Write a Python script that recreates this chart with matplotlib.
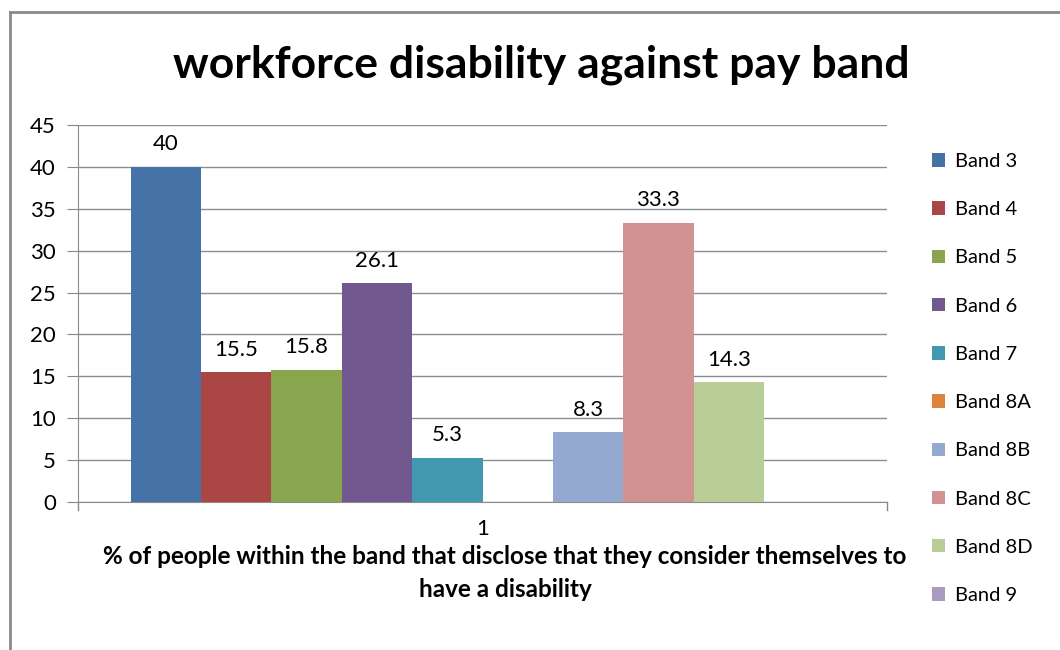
import numpy as np
import matplotlib.pyplot as plt
from matplotlib.lines import Line2D

plt.rcParams['font.family'] = ['Lato', 'DejaVu Sans']

# pay bands and % of staff in each band disclosing a disability
bands = ["Band 3", "Band 4", "Band 5", "Band 6", "Band 7",
         "Band 8A", "Band 8B", "Band 8C", "Band 8D", "Band 9"]
values = [40, 15.5, 15.8, 26.1, 5.3, None, 8.3, 33.3, 14.3, None]
colors = ["#4572A7", "#AA4643", "#89A54E", "#71588F", "#4198AF",
          "#DB843D", "#93A9CF", "#D19392", "#B9CD96", "#A99BBD"]
category = ["1"]

fig = plt.figure(figsize=(10.6, 6.5), dpi=100)
ax = fig.add_axes([0.0736, 0.2277, 0.7632, 0.58])

n = len(bands)
gap = 1.5
width = 1.0 / (n + gap)
start = 0.5 - n * width / 2

for i, (b, v, c) in enumerate(zip(bands, values, colors)):
    h = np.nan if v is None else v
    x = start + (i + 0.5) * width
    ax.bar(x, h, width=width, color=c, label=b, zorder=3)
    if v is not None:
        ax.text(x, v + 1.5, f"{v:g}", ha="center", va="bottom", fontsize=16)

ax.set_xlim(0, 1)
ax.set_ylim(0, 45)
ax.set_yticks(range(0, 46, 5))
ax.set_xticks([0.5])
ax.set_xticklabels(category)
ax.tick_params(axis="y", labelsize=16, length=8, color="#888888", pad=8)
ax.tick_params(axis="x", labelsize=16, length=0, pad=12)
# boundary ticks at the edges of the category
for xb in (0, 1):
    ax.add_line(Line2D([xb, xb], [0, -0.022], transform=ax.get_xaxis_transform(),
                       color="#888888", lw=1, clip_on=False))

ax.yaxis.grid(True, color="#8c8c8c", lw=1, zorder=0)
for side in ("top", "right"):
    ax.spines[side].set_visible(False)
for side in ("left", "bottom"):
    ax.spines[side].set_color("#8c8c8c")

ax.set_xlabel("% of people within the band that disclose that they consider themselves to\nhave a disability",
              fontsize=17.5, fontweight="bold", linespacing=1.5)
ax.xaxis.set_label_coords(0.528, -0.115)

fig.text(0.511, 0.9, "workforce disability against pay band", ha="center", va="center",
         fontsize=32, fontweight="bold")

fig.legend(loc="upper left", bbox_to_anchor=(0.872, 0.777), frameon=False,
           fontsize=14.5, handlelength=0.65, handleheight=0.65, handletextpad=0.45,
           labelspacing=1.55, borderaxespad=0)

# chart border
fig.add_artist(Line2D([10 / 1060, 10 / 1060], [0, 1 - 12 / 650], transform=fig.transFigure,
                      color="#8a8a8a", lw=2))
fig.add_artist(Line2D([10 / 1060, 1], [1 - 12 / 650, 1 - 12 / 650], transform=fig.transFigure,
                      color="#8a8a8a", lw=2))

fig.savefig("out.png", dpi=100)
